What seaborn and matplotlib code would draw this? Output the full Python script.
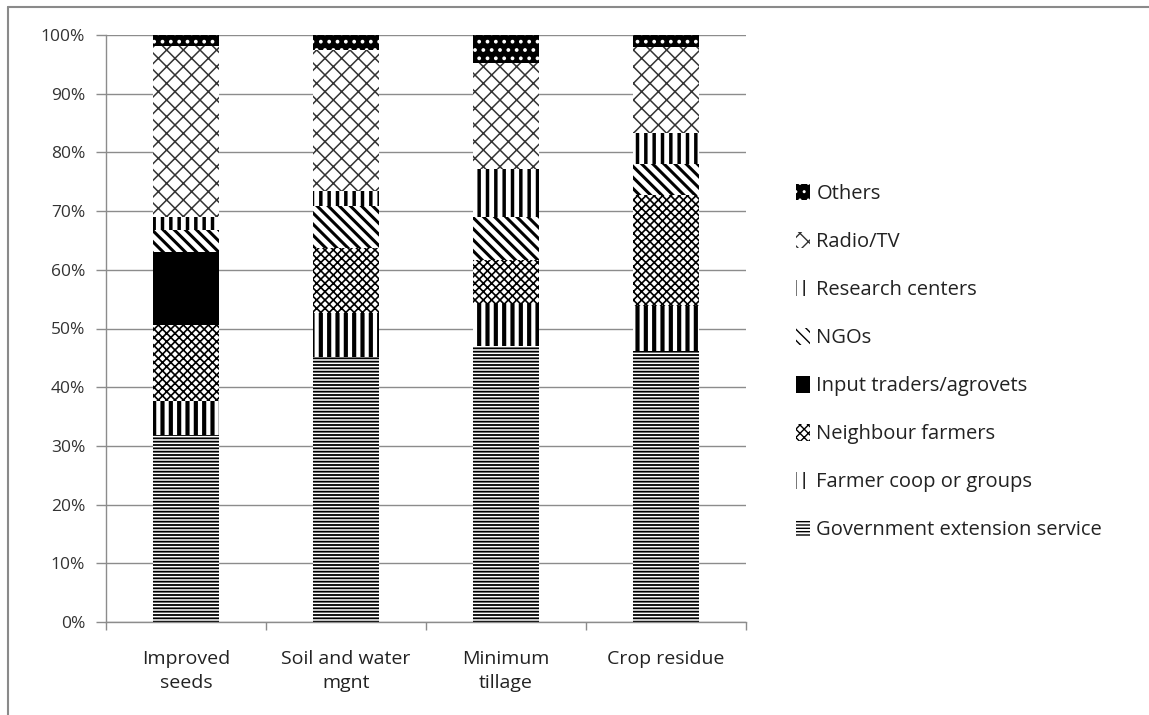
import numpy as np
import matplotlib
matplotlib.use("Agg")
import matplotlib.pyplot as plt
from matplotlib.patches import Patch
from matplotlib.lines import Line2D
import seaborn as sns

categories = ["Improved\nseeds", "Soil and water\nmgnt", "Minimum\ntillage", "Crop residue"]

series_names = ["Government extension service", "Farmer coop or groups", "Neighbour farmers",
                "Input traders/agrovets", "NGOs", "Research centers", "Radio/TV", "Others"]

government = [31.9, 45.2, 47.1, 46.2]
farmer_coop = [5.7, 7.4, 7.2, 7.6]
neighbour = [13.0, 11.1, 7.4, 18.9]
input_traders = [12.4, 0.0, 0.0, 0.0]
ngos = [3.8, 7.1, 7.3, 5.4]
research = [2.2, 2.7, 8.1, 5.2]
radio_tv = [29.1, 24.0, 18.2, 14.6]
others = [1.9, 2.5, 4.7, 2.1]

values = [government, farmer_coop, neighbour, input_traders, ngos, research, radio_tv, others]

# styles: (facecolor, hatch colour, hatch, hatch linewidth)
styles = [
    ("white", "black", "-----", 1.3),
    ("white", "black", "||", 3.0),
    ("white", "black", "xxxx", 1.2),
    ("black", "black", "", 1.0),
    ("white", "black", "\\\\\\", 2.2),
    ("white", "black", "||", 2.5),
    ("white", "#333333", "xx", 1.1),
    ("black", "white", "..", 1.5),
]

sns.set_theme(style="white")
plt.rcParams["font.family"] = ["Open Sans", "DejaVu Sans"]

fig = plt.figure(figsize=(11.49, 7.15), dpi=100)
ax = fig.add_axes([106 / 1149, 1 - 622 / 715, 640 / 1149, 587 / 715])

totals = np.zeros(len(categories))
cums = []
for v in values:
    totals = totals + np.array(v) / 100.0
    cums.append(totals.copy())

# draw from the top cumulative down so each lower segment overlays
for i in range(len(values) - 1, -1, -1):
    face, hcol, hatch, hlw = styles[i]
    with plt.rc_context({"hatch.linewidth": hlw, "hatch.color": hcol}):
        sns.barplot(x=categories, y=cums[i], order=categories, ax=ax, color=face,
                    saturation=1, width=0.41, edgecolor=hcol, linewidth=0,
                    hatch=hatch, errorbar=None, zorder=2)

ax.set_ylim(0, 1)
ax.set_xlim(-0.5, 3.5)
ax.set_yticks(np.arange(0, 1.01, 0.1))
ax.set_yticklabels([f"{int(round(t * 100))}%" for t in np.arange(0, 1.01, 0.1)],
                   fontsize=12.5, color="#333333")
ax.yaxis.grid(True, color="#8c8c8c", linewidth=1.0, zorder=0)
ax.set_axisbelow(True)
ax.tick_params(axis="y", which="major", left=True, length=7, width=1, color="#8c8c8c", pad=8)
ax.tick_params(axis="x", which="major", bottom=False, labelsize=14, pad=14, colors="#222222")
ax.set_xticks([-0.5, 0.5, 1.5, 2.5, 3.5], minor=True)
ax.tick_params(axis="x", which="minor", bottom=True, length=6, width=1, color="#8c8c8c")
for lab in ax.get_xticklabels():
    lab.set_linespacing(1.45)
ax.set_xlabel("")
ax.set_ylabel("")
for s in ["top", "right"]:
    ax.spines[s].set_visible(False)
for s in ["left", "bottom"]:
    ax.spines[s].set_color("#8c8c8c")
    ax.spines[s].set_linewidth(1.0)

handles = []
for i in range(len(values) - 1, -1, -1):
    face, hcol, hatch, hlw = styles[i]
    with plt.rc_context({"hatch.linewidth": min(hlw, 1.2), "hatch.color": hcol}):
        handles.append(Patch(facecolor=face, edgecolor=hcol, hatch=hatch, linewidth=0,
                             label=series_names[i]))
fig.legend(handles=handles, loc="center left", bbox_to_anchor=(778 / 1149, 1 - 362 / 715),
           frameon=False, fontsize=14.5, handlelength=0.7, handleheight=0.9,
           handletextpad=0.3, labelspacing=1.38, labelcolor="#222222")

# chart area border (top and left only visible)
fig.add_artist(Line2D([8 / 1149, 1], [1 - 6.5 / 715, 1 - 6.5 / 715], color="#8a8a8a", lw=1.5,
                      transform=fig.transFigure))
fig.add_artist(Line2D([8 / 1149, 8 / 1149], [0, 1 - 6.5 / 715], color="#8a8a8a", lw=1.5,
                      transform=fig.transFigure))

fig.savefig("out.png", dpi=100, facecolor="white")
